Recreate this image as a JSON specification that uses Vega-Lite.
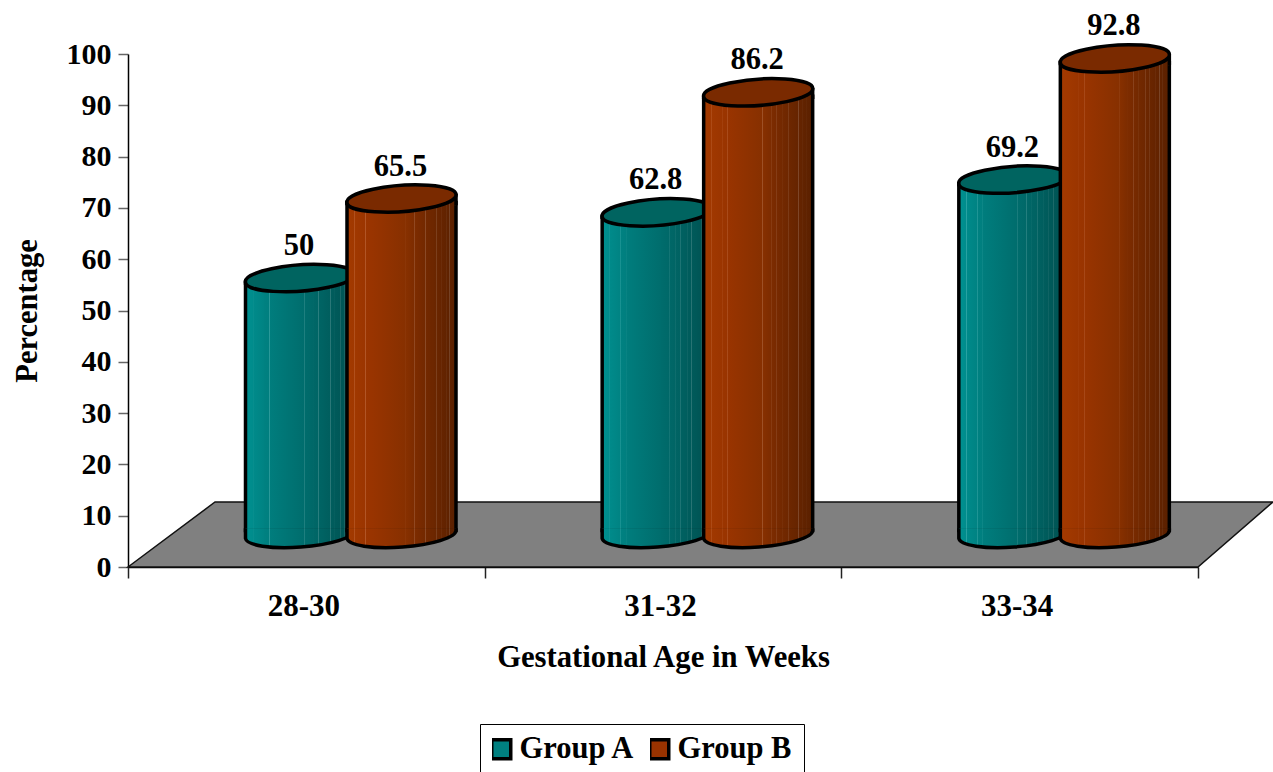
{
  "$schema": "https://vega.github.io/schema/vega-lite/v6.json",
  "width": 1070,
  "height": 513,
  "autosize": "none",
  "padding": {"left": 128, "top": 54, "right": 75, "bottom": 205},
  "background": "white",
  "config": {
    "view": {"stroke": null},
    "font": "Liberation Serif",
    "text": {"font": "Liberation Serif"}
  },
  "datasets": {
    "rates": [
      {"age": "28-30", "group": "Group A", "value": 50},
      {"age": "28-30", "group": "Group B", "value": 65.5},
      {"age": "31-32", "group": "Group A", "value": 62.8},
      {"age": "31-32", "group": "Group B", "value": 86.2},
      {"age": "33-34", "group": "Group A", "value": 69.2},
      {"age": "33-34", "group": "Group B", "value": 92.8}
    ],
    "floor": [
      {"depth": 0, "back": 0, "front": 0},
      {"depth": 0.244, "back": 12.67, "front": 0},
      {"depth": 3, "back": 12.67, "front": 0},
      {"depth": 3.21, "back": 12.67, "front": 12.67}
    ]
  },
  "resolve": {"scale": {"x": "independent", "y": "independent"}},
  "layer": [
    {
      "description": "Grey floor of the 3D plot, with the percentage axis",
      "data": {"name": "floor"},
      "mark": {"type": "area", "orient": "vertical", "fill": "#808080", "stroke": "#111111", "strokeWidth": 1.5},
      "encoding": {
        "x": {"field": "depth", "type": "quantitative", "axis": null, "scale": {"domain": [0, 3]}},
        "y": {
          "field": "back", "type": "quantitative",
          "scale": {"domain": [0, 100]},
          "axis": {
            "title": "Percentage", "values": [0,10,20,30,40,50,60,70,80,90,100], "grid": false,
            "labelFont": "Liberation Serif", "labelFontWeight": "bold", "labelFontSize": 30, "labelColor": "black",
            "titleFont": "Liberation Serif", "titleFontWeight": "bold", "titleFontSize": 30.5, "titleColor": "black",
            "titlePadding": 24, "labelPadding": 7,
            "domainColor": "black", "domainWidth": 1.5, "tickColor": "#666666", "tickWidth": 1.5, "tickSize": 10
          }
        },
        "y2": {"field": "front"}
      }
    },
    {
      "description": "Flat bars that carry the legend colours, hidden under the shaded cylinders, with the age axis",
      "data": {"name": "rates"},
      "mark": {"type": "bar", "width": 100},
      "encoding": {
        "x": {
          "field": "age", "type": "nominal",
          "scale": {"paddingInner": 0, "paddingOuter": 0},
          "axis": {
            "title": "Gestational Age in Weeks", "labelAngle": 0, "tickBand": "extent", "grid": false,
            "labelFont": "Liberation Serif", "labelFontWeight": "bold", "labelFontSize": 31, "labelColor": "black",
            "titleFont": "Liberation Serif", "titleFontWeight": "bold", "titleFontSize": 30.7, "titleColor": "black",
            "labelPadding": 13, "titlePadding": 21, "labelOffset": -3,
            "domainColor": "black", "domainWidth": 1.5, "tickColor": "#222222", "tickWidth": 1.5, "tickSize": 11
          }
        },
        "xOffset": {"field": "group", "type": "nominal", "scale": {"type": "point", "padding": 0, "domain": ["Group A", "Group B"], "range": [172, 273.5]}},
        "y": {"field": "value", "type": "quantitative", "axis": null, "scale": {"domain": [-5.55, 94.45]}},
        "y2": {"datum": 1.56},
        "color": {
          "field": "group", "type": "nominal",
          "scale": {"domain": ["Group A", "Group B"], "range": ["#008080", "#993300"]},
          "legend": {
            "orient": "none", "legendX": 352, "legendY": 670, "direction": "horizontal", "title": null,
            "strokeColor": "black", "fillColor": "white", "padding": 12, "clipHeight": 26,
            "symbolType": "square", "symbolSize": 361, "symbolStrokeColor": "black", "symbolStrokeWidth": 3.5, "symbolOpacity": 1, "symbolOffset": -6,
            "labelFont": "Liberation Serif", "labelFontWeight": "bold", "labelFontSize": 30.5, "labelColor": "black",
            "labelOffset": 3, "columnPadding": 14, "labelLimit": 200
          }
        }
      }
    },
    {
      "data": {"name": "rates"},
      "transform": [{"filter": "datum.group === 'Group A'"}],
      "encoding": {
        "x": {"field": "age", "type": "nominal", "axis": null, "scale": {"paddingInner": 0, "paddingOuter": 0}},
        "xOffset": {"field": "group", "type": "nominal", "scale": {"type": "point", "padding": 0, "domain": ["Group A", "Group B"], "range": [172, 273.5]}},
        "y": {"field": "value", "type": "quantitative", "axis": null, "scale": {"domain": [-5.55, 94.45]}}
      },
      "layer": [
        {
          "description": "Shaded cylinder wall, from the base up to the value",
          "mark": {"type": "bar", "width": 109, "stroke": "black", "strokeWidth": 3.5,
            "fill": {"gradient": "linear", "x1": 0, "y1": 0, "x2": 1, "y2": 0, "stops": [
              {"offset": 0, "color": "#009090"}, {"offset": 0.066, "color": "#008C8C"}, {"offset": 0.07, "color": "#2CA4A4"}, {"offset": 0.074, "color": "#008A8A"},
              {"offset": 0.166, "color": "#008383"}, {"offset": 0.17, "color": "#2C9E9E"}, {"offset": 0.174, "color": "#008181"},
              {"offset": 0.216, "color": "#007F7F"}, {"offset": 0.22, "color": "#2C9A9A"}, {"offset": 0.224, "color": "#007D7D"},
              {"offset": 0.536, "color": "#006D6D"}, {"offset": 0.54, "color": "#2C8888"}, {"offset": 0.544, "color": "#006C6C"},
              {"offset": 0.616, "color": "#006868"}, {"offset": 0.62, "color": "#2C8484"}, {"offset": 0.624, "color": "#006767"},
              {"offset": 0.666, "color": "#006565"}, {"offset": 0.67, "color": "#2C8080"}, {"offset": 0.674, "color": "#006464"},
              {"offset": 0.716, "color": "#006262"}, {"offset": 0.72, "color": "#2C7D7D"}, {"offset": 0.724, "color": "#006161"},
              {"offset": 0.776, "color": "#005E5E"}, {"offset": 0.78, "color": "#2C7979"}, {"offset": 0.784, "color": "#005D5D"},
              {"offset": 0.816, "color": "#005B5B"}, {"offset": 0.82, "color": "#2C7676"}, {"offset": 0.824, "color": "#005A5A"},
              {"offset": 0.866, "color": "#005858"}, {"offset": 0.87, "color": "#2C7373"}, {"offset": 0.874, "color": "#005757"},
              {"offset": 0.906, "color": "#005555"}, {"offset": 0.91, "color": "#2C7070"}, {"offset": 0.914, "color": "#005454"},
              {"offset": 0.936, "color": "#005353"}, {"offset": 0.94, "color": "#2C6E6E"}, {"offset": 0.944, "color": "#005252"},
              {"offset": 1, "color": "#004E4E"}
            ]}},
          "encoding": {"y2": {"datum": 1.56}}
        },
        {
          "description": "Lower curved end of the cylinder, covering the wall's straight bottom edge",
          "mark": {"type": "point", "filled": true, "opacity": 1, "size": 11881, "stroke": "black", "strokeWidth": 3.5, "strokeJoin": "round", "shape": "M1,-.19 L1,-.147 A1.003,.235 -4.2 0 1 -1,0 L-1,-.19",
            "fill": {"gradient": "linear", "x1": 0, "y1": 0, "x2": 1, "y2": 0, "stops": [
              {"offset": 0, "color": "#009090"}, {"offset": 0.066, "color": "#008C8C"}, {"offset": 0.07, "color": "#2CA4A4"}, {"offset": 0.074, "color": "#008A8A"},
              {"offset": 0.166, "color": "#008383"}, {"offset": 0.17, "color": "#2C9E9E"}, {"offset": 0.174, "color": "#008181"},
              {"offset": 0.216, "color": "#007F7F"}, {"offset": 0.22, "color": "#2C9A9A"}, {"offset": 0.224, "color": "#007D7D"},
              {"offset": 0.536, "color": "#006D6D"}, {"offset": 0.54, "color": "#2C8888"}, {"offset": 0.544, "color": "#006C6C"},
              {"offset": 0.616, "color": "#006868"}, {"offset": 0.62, "color": "#2C8484"}, {"offset": 0.624, "color": "#006767"},
              {"offset": 0.666, "color": "#006565"}, {"offset": 0.67, "color": "#2C8080"}, {"offset": 0.674, "color": "#006464"},
              {"offset": 0.716, "color": "#006262"}, {"offset": 0.72, "color": "#2C7D7D"}, {"offset": 0.724, "color": "#006161"},
              {"offset": 0.776, "color": "#005E5E"}, {"offset": 0.78, "color": "#2C7979"}, {"offset": 0.784, "color": "#005D5D"},
              {"offset": 0.816, "color": "#005B5B"}, {"offset": 0.82, "color": "#2C7676"}, {"offset": 0.824, "color": "#005A5A"},
              {"offset": 0.866, "color": "#005858"}, {"offset": 0.87, "color": "#2C7373"}, {"offset": 0.874, "color": "#005757"},
              {"offset": 0.906, "color": "#005555"}, {"offset": 0.91, "color": "#2C7070"}, {"offset": 0.914, "color": "#005454"},
              {"offset": 0.936, "color": "#005353"}, {"offset": 0.94, "color": "#2C6E6E"}, {"offset": 0.944, "color": "#005252"},
              {"offset": 1, "color": "#004E4E"}
            ]}},
          "encoding": {"y": {"datum": 0, "type": "quantitative", "axis": null, "scale": {"domain": [-5.55, 94.45]}}}
        },
        {
          "description": "Wedge under the tilted lid that closes the wall",
          "mark": {"type": "point", "filled": true, "opacity": 1, "size": 11881, "stroke": "black", "strokeWidth": 3.5, "strokeJoin": "round", "shape": "M-1,.05 L-1,0 L1,-.147 L1,.05",
            "fill": {"gradient": "linear", "x1": 0, "y1": 0, "x2": 1, "y2": 0, "stops": [
              {"offset": 0, "color": "#009090"}, {"offset": 0.066, "color": "#008C8C"}, {"offset": 0.07, "color": "#2CA4A4"}, {"offset": 0.074, "color": "#008A8A"},
              {"offset": 0.166, "color": "#008383"}, {"offset": 0.17, "color": "#2C9E9E"}, {"offset": 0.174, "color": "#008181"},
              {"offset": 0.216, "color": "#007F7F"}, {"offset": 0.22, "color": "#2C9A9A"}, {"offset": 0.224, "color": "#007D7D"},
              {"offset": 0.536, "color": "#006D6D"}, {"offset": 0.54, "color": "#2C8888"}, {"offset": 0.544, "color": "#006C6C"},
              {"offset": 0.616, "color": "#006868"}, {"offset": 0.62, "color": "#2C8484"}, {"offset": 0.624, "color": "#006767"},
              {"offset": 0.666, "color": "#006565"}, {"offset": 0.67, "color": "#2C8080"}, {"offset": 0.674, "color": "#006464"},
              {"offset": 0.716, "color": "#006262"}, {"offset": 0.72, "color": "#2C7D7D"}, {"offset": 0.724, "color": "#006161"},
              {"offset": 0.776, "color": "#005E5E"}, {"offset": 0.78, "color": "#2C7979"}, {"offset": 0.784, "color": "#005D5D"},
              {"offset": 0.816, "color": "#005B5B"}, {"offset": 0.82, "color": "#2C7676"}, {"offset": 0.824, "color": "#005A5A"},
              {"offset": 0.866, "color": "#005858"}, {"offset": 0.87, "color": "#2C7373"}, {"offset": 0.874, "color": "#005757"},
              {"offset": 0.906, "color": "#005555"}, {"offset": 0.91, "color": "#2C7070"}, {"offset": 0.914, "color": "#005454"},
              {"offset": 0.936, "color": "#005353"}, {"offset": 0.94, "color": "#2C6E6E"}, {"offset": 0.944, "color": "#005252"},
              {"offset": 1, "color": "#004E4E"}
            ]}}
        },
        {
          "description": "Tilted elliptical lid",
          "mark": {"type": "point", "filled": true, "opacity": 1, "size": 11881, "fill": "#006460", "stroke": "black", "strokeWidth": 3.5, "shape": "M-1,0 A1.003,.235 -4.2 1 1 1,-.147 A1.003,.235 -4.2 1 1 -1,0 Z"}
        }
      ]
    },
    {
      "data": {"name": "rates"},
      "transform": [{"filter": "datum.group === 'Group B'"}],
      "encoding": {
        "x": {"field": "age", "type": "nominal", "axis": null, "scale": {"paddingInner": 0, "paddingOuter": 0}},
        "xOffset": {"field": "group", "type": "nominal", "scale": {"type": "point", "padding": 0, "domain": ["Group A", "Group B"], "range": [172, 273.5]}},
        "y": {"field": "value", "type": "quantitative", "axis": null, "scale": {"domain": [-5.55, 94.45]}}
      },
      "layer": [
        {
          "mark": {"type": "bar", "width": 109, "stroke": "black", "strokeWidth": 3.5,
            "fill": {"gradient": "linear", "x1": 0, "y1": 0, "x2": 1, "y2": 0, "stops": [
              {"offset": 0, "color": "#A33A00"}, {"offset": 0.066, "color": "#A03800"}, {"offset": 0.07, "color": "#B85A28"}, {"offset": 0.074, "color": "#A03800"},
              {"offset": 0.166, "color": "#9B3500"}, {"offset": 0.17, "color": "#B35728"}, {"offset": 0.174, "color": "#9B3500"},
              {"offset": 0.216, "color": "#993400"}, {"offset": 0.22, "color": "#B15628"}, {"offset": 0.224, "color": "#993400"},
              {"offset": 0.536, "color": "#873000"}, {"offset": 0.54, "color": "#9F5228"}, {"offset": 0.544, "color": "#873000"},
              {"offset": 0.616, "color": "#7D2C00"}, {"offset": 0.62, "color": "#954E28"}, {"offset": 0.624, "color": "#7D2C00"},
              {"offset": 0.666, "color": "#782A00"}, {"offset": 0.67, "color": "#904C28"}, {"offset": 0.674, "color": "#782A00"},
              {"offset": 0.716, "color": "#732900"}, {"offset": 0.72, "color": "#8B4B28"}, {"offset": 0.724, "color": "#732900"},
              {"offset": 0.776, "color": "#6E2700"}, {"offset": 0.78, "color": "#864928"}, {"offset": 0.784, "color": "#6E2700"},
              {"offset": 0.816, "color": "#6A2600"}, {"offset": 0.82, "color": "#824828"}, {"offset": 0.824, "color": "#6A2600"},
              {"offset": 0.866, "color": "#662400"}, {"offset": 0.87, "color": "#7E4628"}, {"offset": 0.874, "color": "#662400"},
              {"offset": 0.906, "color": "#622300"}, {"offset": 0.91, "color": "#7A4528"}, {"offset": 0.914, "color": "#622300"},
              {"offset": 0.936, "color": "#5F2200"}, {"offset": 0.94, "color": "#774428"}, {"offset": 0.944, "color": "#5F2200"},
              {"offset": 1, "color": "#5A2000"}
            ]}},
          "encoding": {"y2": {"datum": 1.56}}
        },
        {
          "mark": {"type": "point", "filled": true, "opacity": 1, "size": 11881, "stroke": "black", "strokeWidth": 3.5, "strokeJoin": "round", "shape": "M1,-.19 L1,-.147 A1.003,.235 -4.2 0 1 -1,0 L-1,-.19",
            "fill": {"gradient": "linear", "x1": 0, "y1": 0, "x2": 1, "y2": 0, "stops": [
              {"offset": 0, "color": "#A33A00"}, {"offset": 0.066, "color": "#A03800"}, {"offset": 0.07, "color": "#B85A28"}, {"offset": 0.074, "color": "#A03800"},
              {"offset": 0.166, "color": "#9B3500"}, {"offset": 0.17, "color": "#B35728"}, {"offset": 0.174, "color": "#9B3500"},
              {"offset": 0.216, "color": "#993400"}, {"offset": 0.22, "color": "#B15628"}, {"offset": 0.224, "color": "#993400"},
              {"offset": 0.536, "color": "#873000"}, {"offset": 0.54, "color": "#9F5228"}, {"offset": 0.544, "color": "#873000"},
              {"offset": 0.616, "color": "#7D2C00"}, {"offset": 0.62, "color": "#954E28"}, {"offset": 0.624, "color": "#7D2C00"},
              {"offset": 0.666, "color": "#782A00"}, {"offset": 0.67, "color": "#904C28"}, {"offset": 0.674, "color": "#782A00"},
              {"offset": 0.716, "color": "#732900"}, {"offset": 0.72, "color": "#8B4B28"}, {"offset": 0.724, "color": "#732900"},
              {"offset": 0.776, "color": "#6E2700"}, {"offset": 0.78, "color": "#864928"}, {"offset": 0.784, "color": "#6E2700"},
              {"offset": 0.816, "color": "#6A2600"}, {"offset": 0.82, "color": "#824828"}, {"offset": 0.824, "color": "#6A2600"},
              {"offset": 0.866, "color": "#662400"}, {"offset": 0.87, "color": "#7E4628"}, {"offset": 0.874, "color": "#662400"},
              {"offset": 0.906, "color": "#622300"}, {"offset": 0.91, "color": "#7A4528"}, {"offset": 0.914, "color": "#622300"},
              {"offset": 0.936, "color": "#5F2200"}, {"offset": 0.94, "color": "#774428"}, {"offset": 0.944, "color": "#5F2200"},
              {"offset": 1, "color": "#5A2000"}
            ]}},
          "encoding": {"y": {"datum": 0, "type": "quantitative", "axis": null, "scale": {"domain": [-5.55, 94.45]}}}
        },
        {
          "mark": {"type": "point", "filled": true, "opacity": 1, "size": 11881, "stroke": "black", "strokeWidth": 3.5, "strokeJoin": "round", "shape": "M-1,.05 L-1,0 L1,-.147 L1,.05",
            "fill": {"gradient": "linear", "x1": 0, "y1": 0, "x2": 1, "y2": 0, "stops": [
              {"offset": 0, "color": "#A33A00"}, {"offset": 0.066, "color": "#A03800"}, {"offset": 0.07, "color": "#B85A28"}, {"offset": 0.074, "color": "#A03800"},
              {"offset": 0.166, "color": "#9B3500"}, {"offset": 0.17, "color": "#B35728"}, {"offset": 0.174, "color": "#9B3500"},
              {"offset": 0.216, "color": "#993400"}, {"offset": 0.22, "color": "#B15628"}, {"offset": 0.224, "color": "#993400"},
              {"offset": 0.536, "color": "#873000"}, {"offset": 0.54, "color": "#9F5228"}, {"offset": 0.544, "color": "#873000"},
              {"offset": 0.616, "color": "#7D2C00"}, {"offset": 0.62, "color": "#954E28"}, {"offset": 0.624, "color": "#7D2C00"},
              {"offset": 0.666, "color": "#782A00"}, {"offset": 0.67, "color": "#904C28"}, {"offset": 0.674, "color": "#782A00"},
              {"offset": 0.716, "color": "#732900"}, {"offset": 0.72, "color": "#8B4B28"}, {"offset": 0.724, "color": "#732900"},
              {"offset": 0.776, "color": "#6E2700"}, {"offset": 0.78, "color": "#864928"}, {"offset": 0.784, "color": "#6E2700"},
              {"offset": 0.816, "color": "#6A2600"}, {"offset": 0.82, "color": "#824828"}, {"offset": 0.824, "color": "#6A2600"},
              {"offset": 0.866, "color": "#662400"}, {"offset": 0.87, "color": "#7E4628"}, {"offset": 0.874, "color": "#662400"},
              {"offset": 0.906, "color": "#622300"}, {"offset": 0.91, "color": "#7A4528"}, {"offset": 0.914, "color": "#622300"},
              {"offset": 0.936, "color": "#5F2200"}, {"offset": 0.94, "color": "#774428"}, {"offset": 0.944, "color": "#5F2200"},
              {"offset": 1, "color": "#5A2000"}
            ]}}
        },
        {
          "mark": {"type": "point", "filled": true, "opacity": 1, "size": 11881, "fill": "#7A2A00", "stroke": "black", "strokeWidth": 3.5, "shape": "M-1,0 A1.003,.235 -4.2 1 1 1,-.147 A1.003,.235 -4.2 1 1 -1,0 Z"}
        }
      ]
    },
    {
      "description": "Value printed above each cylinder",
      "data": {"name": "rates"},
      "mark": {"type": "text", "font": "Liberation Serif", "fontWeight": "bold", "fontSize": 30.5, "color": "black", "dy": -36, "dx": -1, "baseline": "middle"},
      "encoding": {
        "x": {"field": "age", "type": "nominal", "axis": null, "scale": {"paddingInner": 0, "paddingOuter": 0}},
        "xOffset": {"field": "group", "type": "nominal", "scale": {"type": "point", "padding": 0, "domain": ["Group A", "Group B"], "range": [172, 273.5]}},
        "y": {"field": "value", "type": "quantitative", "axis": null, "scale": {"domain": [-5.55, 94.45]}},
        "text": {"field": "value", "type": "quantitative"}
      }
    }
  ]
}
